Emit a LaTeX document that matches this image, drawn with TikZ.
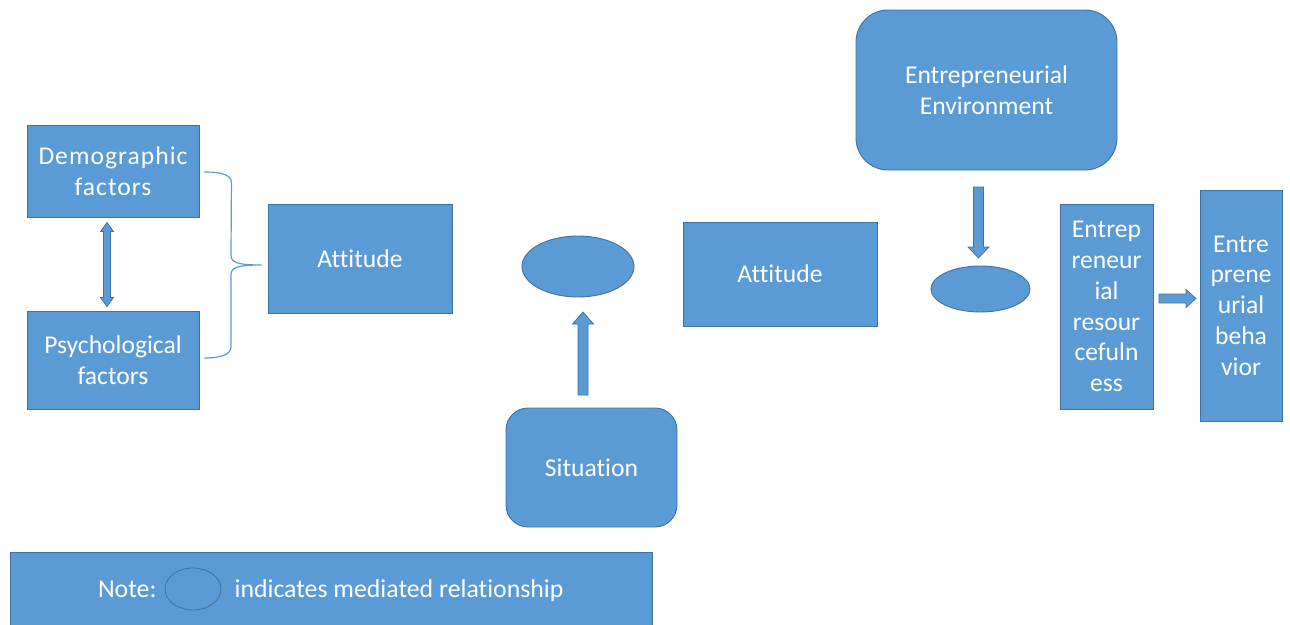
\documentclass[tikz,border=0pt]{standalone}
\usepackage{fontspec}
\setmainfont{Carlito}[Ligatures={NoCommon}]
\usetikzlibrary{calc,shapes.geometric}
\definecolor{fillblue}{HTML}{5B9BD5}
\definecolor{edgeblue}{HTML}{41719C}
\begin{document}
\begin{tikzpicture}[x=1pt,y=-1pt,
  box/.style={draw=edgeblue, fill=fillblue, line width=0.9pt, text=white,
    font=\fontsize{25.6}{30.8}\selectfont, align=center, inner sep=0pt},
  rbox/.style={box, rounded corners=#1},
  med/.style={ellipse, draw=edgeblue, fill=fillblue, line width=0.9pt, inner sep=0pt},
  barrow/.style={draw=edgeblue, fill=fillblue, line width=0.7pt, line join=miter},
  bracket/.style={draw=fillblue, line width=1.2pt},
  notetext/.style={text=white, font=\fontsize{25.8}{30}\selectfont, inner sep=0pt}]
\useasboundingbox (0,0) rectangle (1290,624);

% boxes
\node[box, minimum width=172, minimum height=92] (demo) at (113,171)
  {\addfontfeature{LetterSpace=4}Demographic\\\addfontfeature{LetterSpace=4}factors};
\node[box, minimum width=172, minimum height=98] (psych) at (113,360) {Psychological\\factors};
\node[box, minimum width=184, minimum height=109] (att1) at (360,258.5) {Attitude};
\node[med, minimum width=112, minimum height=61] (med1) at (578,266.5) {};
\node[rbox=22, minimum width=171, minimum height=119] (sit) at (591.5,467.5) {Situation};
\node[box, minimum width=194, minimum height=104] (att2) at (780,274) {Attitude};
\node[rbox=32, minimum width=261, minimum height=160] (env) at (986.5,90) {Entrepreneurial\\Environment};
\node[med, minimum width=99, minimum height=46] (med2) at (980.5,289) {};
\node[box, minimum width=93, minimum height=205] (res) at (1106.5,306.5)
  {Entrep\\reneur\\ial\\resour\\cefuln\\ess};
\node[box, minimum width=82, minimum height=231] (beh) at (1241,305.5)
  {Entre\\prene\\urial\\beha\\vior};

% note
\node[box, minimum width=642, minimum height=74] (note) at (331,589) {};
\node[ellipse, draw=edgeblue, line width=0.8pt, minimum width=56, minimum height=42, inner sep=0pt] (noteell) at (193,589) {};
\node[notetext, anchor=base east] (notelabel) at ($(noteell.west)+(-8,8)$) {Note:};
\node[notetext, anchor=base west] (notedesc) at ($(noteell.east)+(13,8)$) {indicates mediated relationship};

% bracket
\coordinate (brtop) at ($(demo.east)+(5,1)$);
\coordinate (brbot) at ($(psych.east)+(5,-2)$);
\coordinate (brtip) at ($(att1.west)+(-6,6.5)$);
\draw[bracket] (brtop) .. controls +(18,0) and +(0,-8) .. ++(27,11) -- (231,255)
  .. controls (231,262) and (236,265) .. (brtip)
  .. controls (236,265) and (231,268) .. (231,275) -- (231,347)
  .. controls (231,354) and (222,358) .. (brbot);

% double arrow between demographic and psychological
\coordinate (dTop) at ($(demo.south)+(-6,5)$);
\coordinate (dBot) at ($(psych.north)+(-6,-4)$);
\draw[barrow] (dTop) -- ++(6.5,9) -- ++(-3,0) |- ($(dBot)+(3.5,-9)$) -- ++(3,0) -- (dBot)
  -- ++(-6.5,-9) -- ++(3,0) |- ($(dTop)+(-3.5,9)$) -- ++(-3,0) -- cycle;

% up arrow: situation -> mediator
\coordinate (uTail) at (583,395);
\coordinate (uTip) at (583,312);
\draw[barrow] ($(uTail)+(-5,0)$) -- ($(uTip)+(-5,12)$) -- ($(uTip)+(-10.5,12)$) -- (uTip)
  -- ($(uTip)+(10.5,12)$) -- ($(uTip)+(5,12)$) -- ($(uTail)+(5,0)$) -- cycle;

% down arrow: environment -> mediator
\coordinate (vTail) at (978.5,187);
\coordinate (vTip) at (978.5,258);
\draw[barrow] ($(vTail)+(-5,0)$) -- ($(vTip)+(-5,-11)$) -- ($(vTip)+(-10.5,-11)$) -- (vTip)
  -- ($(vTip)+(10.5,-11)$) -- ($(vTip)+(5,-11)$) -- ($(vTail)+(5,0)$) -- cycle;

% right arrow: resourcefulness -> behavior
\coordinate (rTail) at (1159,298.5);
\coordinate (rTip) at (1196,298.5);
\draw[barrow] ($(rTail)+(0,-4.5)$) -- ($(rTip)+(-10,-4.5)$) -- ($(rTip)+(-10,-9)$) -- (rTip)
  -- ($(rTip)+(-10,9)$) -- ($(rTip)+(-10,4.5)$) -- ($(rTail)+(0,4.5)$) -- cycle;
\end{tikzpicture}
\end{document}
